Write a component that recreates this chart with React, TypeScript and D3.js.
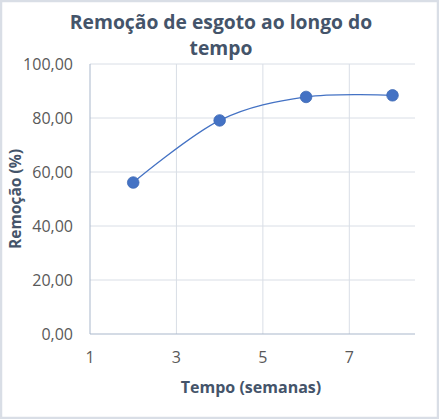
import React from "react";
import * as d3 from "d3";

const weeks = [2, 4, 6, 8];
const removal = [56.1, 79.1, 87.8, 88.4];
const xTicks = [1, 3, 5, 7];
const yTicks = [0, 20, 40, 60, 80, 100];
const titleLines = ["Remoção de esgoto ao longo do", "tempo"];
const xTitle = "Tempo (semanas)";
const yTitle = "Remoção (%)";

const W = 439;
const H = 419;
const plot = { left: 90, right: 415, top: 64, bottom: 334 };

export default function App() {
  const x = d3.scaleLinear().domain([1, 8.52]).range([plot.left, plot.right]);
  const y = d3.scaleLinear().domain([0, 100]).range([plot.bottom, plot.top]);
  const pts = weeks.map((w, i) => [w, removal[i]] as [number, number]);
  const line = d3
    .line<[number, number]>()
    .x((d) => x(d[0]))
    .y((d) => y(d[1]))
    .curve(d3.curveCardinal.tension(0));
  const fmt = (v: number) => v.toFixed(2).replace(".", ",");
  const font = "'Open Sans', 'Noto Sans', sans-serif";
  const textCol = "#595959";
  const titleCol = "#44546A";
  return (
    <div style={{ position: "fixed", left: 0, top: 0 }}>
      <svg width={W} height={H} style={{ display: "block" }}>
        <rect x={1} y={1} width={W - 2} height={H - 2} fill="#fff" stroke="#D9DEE6" strokeWidth={2.5} />
        <g fontFamily={font} fill={titleCol} fontWeight={700} fontSize={19.3} textAnchor="middle">
          {titleLines.map((t, i) => (
            <text key={i} x={221} y={29 + i * 26}>
              {t}
            </text>
          ))}
        </g>
        {yTicks.filter((t) => t > 0).map((t) => (
          <line key={"gy" + t} x1={plot.left} x2={plot.right} y1={y(t)} y2={y(t)} stroke="#D9DEE6" strokeWidth={1} />
        ))}
        {xTicks.filter((t) => t > 1).map((t) => (
          <line key={"gx" + t} x1={x(t)} x2={x(t)} y1={plot.top} y2={plot.bottom} stroke="#D9DEE6" strokeWidth={1} />
        ))}
        <line x1={plot.left} x2={plot.left} y1={plot.top} y2={plot.bottom} stroke="#A9B7CB" strokeWidth={1} />
        <line x1={plot.left} x2={plot.right} y1={plot.bottom} y2={plot.bottom} stroke="#A9B7CB" strokeWidth={1} />
        <g fontFamily={font} fill={textCol} fontSize={16}>
          {yTicks.map((t) => (
            <text key={"ly" + t} x={73} y={y(t)} dy="0.35em" textAnchor="end">
              {fmt(t)}
            </text>
          ))}
          {xTicks.map((t) => (
            <text key={"lx" + t} x={x(t)} y={357} dy="0.35em" textAnchor="middle">
              {t}
            </text>
          ))}
        </g>
        <text x={251} y={387} dy="0.35em" textAnchor="middle" fontFamily={font} fontWeight={700} fontSize={16} fill={titleCol}>
          {xTitle}
        </text>
        <text
          transform={`translate(16,${(plot.top + plot.bottom) / 2}) rotate(-90)`}
          dy="0.35em"
          textAnchor="middle"
          fontFamily={font}
          fontWeight={700}
          fontSize={15.6}
          fill={titleCol}
        >
          {yTitle}
        </text>
        <path d={line(pts) || ""} fill="none" stroke="#4472C4" strokeWidth={1.3} />
        {pts.map((p, i) => (
          <circle key={i} cx={x(p[0])} cy={y(p[1])} r={5.8} fill="#4472C4" stroke="#3F69B5" strokeWidth={0.8} />
        ))}
      </svg>
    </div>
  );
}
